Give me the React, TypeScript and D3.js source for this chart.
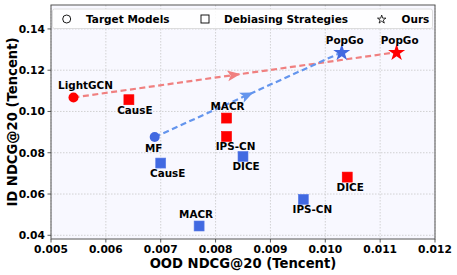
import React from 'react';
import * as d3 from 'd3';

// values
const targetNames = ['LightGCN', 'MF'];
const targetX = [0.00541, 0.00689];
const targetY = [0.1068, 0.0876];
const targetGroup = ['red', 'blue'];

const debiasNames = ['CausE', 'MACR', 'IPS-CN', 'DICE', 'CausE', 'MACR', 'DICE', 'IPS-CN'];
const debiasX = [0.00642, 0.0082, 0.0082, 0.0104, 0.0070, 0.0077, 0.0085, 0.0096];
const debiasY = [0.1057, 0.0968, 0.0879, 0.0682, 0.075, 0.0445, 0.0782, 0.0574];
const debiasGroup = ['red', 'red', 'red', 'red', 'blue', 'blue', 'blue', 'blue'];

const oursNames = ['PopGo', 'PopGo'];
const oursX = [0.0113, 0.0103];
const oursY = [0.1287, 0.1287];
const oursGroup = ['red', 'blue'];

const xTicks = [0.005, 0.006, 0.007, 0.008, 0.009, 0.010, 0.011, 0.012];
const yTicks = [0.04, 0.06, 0.08, 0.10, 0.12, 0.14];

// label offsets in pixels (dx, baseline dy)
const targetLabelOff = [[12, -8], [-1, 15]];
const debiasLabelOff = [[6, 14], [1, -8], [9, 14], [3, 14], [7, 14], [-3, -8], [3, 14], [9, 14]];
const oursLabelOff = [[3, -8], [3, -8]];

const markerFill: Record<string, string> = { red: '#ff0000', blue: '#4169e1' };
const lineColor: Record<string, string> = { red: '#f08080', blue: '#6495ed' };

const W = 457, H = 275;
const left = 51, right = 435, top = 5, bottom = 239;
const font = 'DejaVu Sans, sans-serif';

const App = () => {
  const x = d3.scaleLinear().domain([0.005, 0.012]).range([left, right]);
  const y = d3.scaleLinear().domain([0.0382, 0.1516]).range([bottom, top]);

  const star = d3.symbol().type(d3.symbolStar);
  const legendStar = d3.symbol().type(d3.symbolStar).size(22)();

  // arrow from each target model to its PopGo
  const arrows = targetGroup.map((g, i) => {
    const j = oursGroup.indexOf(g);
    const x0 = x(targetX[i]), y0 = y(targetY[i]);
    const x1 = x(oursX[j]), y1 = y(oursY[j]);
    const mx = (x0 + x1) / 2, my = (y0 + y1) / 2;
    const ang = Math.atan2(y1 - y0, x1 - x0) * 180 / Math.PI;
    return { g, x0, y0, x1, y1, mx, my, ang };
  });

  const label = (t: string, px: number, py: number, off: number[], k: string) => (
    <text key={k} x={px + off[0]} y={py + off[1]} textAnchor="middle"
      fontFamily={font} fontWeight="bold" fontSize={10.4} fill="#000">{t}</text>
  );

  return (
    <svg width={W} height={H} style={{ position: 'absolute', left: 0, top: 0 }}>
      <rect x={0} y={0} width={W} height={H} fill="#fff" />
      <rect x={left} y={top} width={right - left} height={bottom - top} fill="#f8f8ff" />

      {/* grid */}
      {xTicks.map((t) => (
        <line key={'gx' + t} x1={x(t)} x2={x(t)} y1={top} y2={bottom}
          stroke="#c8c8c8" strokeWidth={0.8} strokeDasharray="1.5,1.5" />
      ))}
      {yTicks.map((t) => (
        <line key={'gy' + t} x1={left} x2={right} y1={y(t)} y2={y(t)}
          stroke="#c8c8c8" strokeWidth={0.8} strokeDasharray="1.5,1.5" />
      ))}

      {/* dashed arrows */}
      {arrows.map((a) => (
        <g key={'ar' + a.g}>
          <line x1={a.x0} y1={a.y0} x2={a.x1} y2={a.y1} stroke={lineColor[a.g]}
            strokeWidth={2.2} strokeDasharray="6,3.5" />
          <path d="M5.5,0 L-7.5,-5.5 L-4.5,0 L-7.5,5.5 Z" fill={lineColor[a.g]}
            transform={`translate(${a.mx},${a.my}) rotate(${a.ang})`} />
        </g>
      ))}

      {/* debiasing strategies */}
      {debiasNames.map((n, i) => (
        <rect key={'sq' + i} x={x(debiasX[i]) - 5} y={y(debiasY[i]) - 5} width={10} height={10}
          fill={markerFill[debiasGroup[i]]}
          stroke={debiasGroup[i] === 'blue' ? '#5a7de8' : '#ff0000'} strokeWidth={0.6} />
      ))}
      {/* target models */}
      {targetNames.map((n, i) => (
        <circle key={'c' + i} cx={x(targetX[i])} cy={y(targetY[i])} r={5}
          fill={markerFill[targetGroup[i]]} />
      ))}
      {/* ours */}
      {oursNames.map((n, i) => (
        <path key={'st' + i} d={star.size(90)() as string}
          transform={`translate(${x(oursX[i])},${y(oursY[i]) + 0.5})`}
          fill={markerFill[oursGroup[i]]} />
      ))}

      {/* labels */}
      {targetNames.map((n, i) => label(n, x(targetX[i]), y(targetY[i]), targetLabelOff[i], 'tl' + i))}
      {debiasNames.map((n, i) => label(n, x(debiasX[i]), y(debiasY[i]), debiasLabelOff[i], 'dl' + i))}
      {oursNames.map((n, i) => label(n, x(oursX[i]), y(oursY[i]), oursLabelOff[i], 'ol' + i))}

      {/* legend */}
      <rect x={52.5} y={9} width={380} height={19.5} rx={2} fill="#fff" fillOpacity={0.85}
        stroke="#d6d6d6" strokeWidth={0.8} />
      <circle cx={66.7} cy={19} r={4} fill="none" stroke="#000" strokeWidth={0.9} />
      <text x={86} y={22.8} fontFamily={font} fontWeight="bold" fontSize={10.5}>Target Models</text>
      <rect x={201} y={15} width={8} height={8} fill="none" stroke="#000" strokeWidth={0.9} />
      <text x={224} y={22.8} fontFamily={font} fontWeight="bold" fontSize={10.5}>Debiasing Strategies</text>
      <path d={legendStar as string} transform="translate(381.7,19.5)" fill="none" stroke="#000" strokeWidth={0.8} />
      <text x={401.5} y={22.8} fontFamily={font} fontWeight="bold" fontSize={10.5}>Ours</text>

      {/* frame */}
      <rect x={left} y={top} width={right - left} height={bottom - top} fill="none" stroke="#555" strokeWidth={1} />

      {/* axes ticks */}
      {xTicks.map((t) => (
        <g key={'tx' + t}>
          <line x1={x(t)} x2={x(t)} y1={bottom} y2={bottom + 3.5} stroke="#333" strokeWidth={0.8} />
          <text x={x(t)} y={bottom + 14} textAnchor="middle" fontFamily={font}
            fontWeight="bold" fontSize={10.7}>{d3.format('.3f')(t)}</text>
        </g>
      ))}
      {yTicks.map((t) => (
        <g key={'ty' + t}>
          <line x1={left - 3.5} x2={left} y1={y(t)} y2={y(t)} stroke="#333" strokeWidth={0.8} />
          <text x={left - 6} y={y(t) + 3.8} textAnchor="end" fontFamily={font}
            fontWeight="bold" fontSize={10.7}>{d3.format('.2f')(t)}</text>
        </g>
      ))}

      <text x={(left + right) / 2} y={267.5} textAnchor="middle" fontFamily={font}
        fontWeight="bold" fontSize={13.2}>OOD NDCG@20 (Tencent)</text>
      <text transform={`translate(17,${(top + bottom) / 2}) rotate(-90)`} textAnchor="middle"
        fontFamily={font} fontWeight="bold" fontSize={13.2}>ID NDCG@20 (Tencent)</text>
    </svg>
  );
};

export default App;
